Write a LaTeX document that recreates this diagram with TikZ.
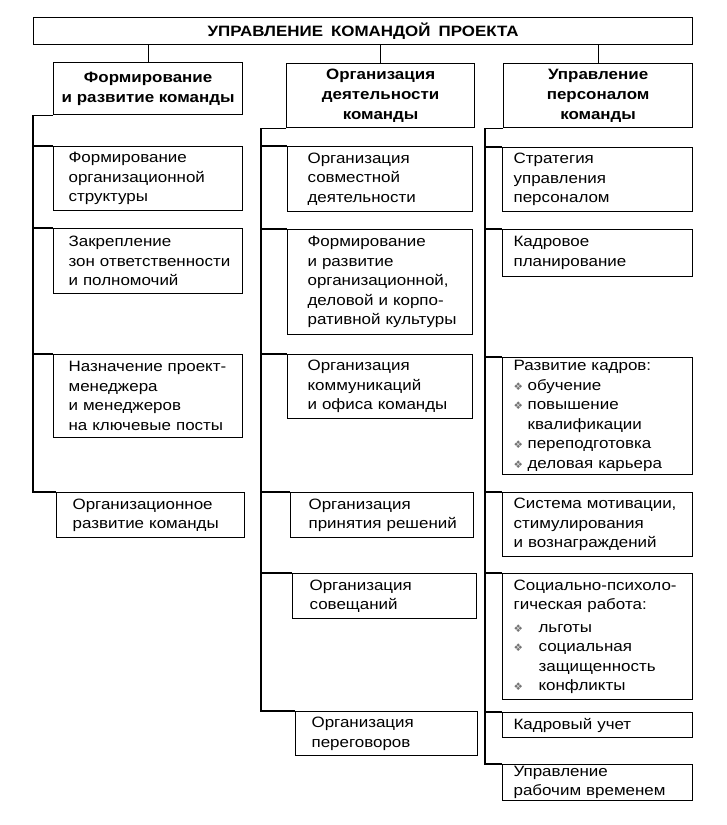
\documentclass[tikz,border=0pt]{standalone}
\usepackage{fontspec}
\setmainfont{Liberation Sans}[FakeStretch=1.13]
\newfontfamily\bulfont{DejaVu Sans}
\newcommand{\bul}{\makebox[14pt][l]{\bulfont\fontsize{10.5}{10}\selectfont\textcolor{black!55}{❖}}}
\newcommand{\bulw}{\makebox[25pt][l]{\bulfont\fontsize{10.5}{10}\selectfont\textcolor{black!55}{❖}}}
\begin{document}
\begin{tikzpicture}[x=1pt,y=-1pt,
    every path/.style={line width=1.2pt},
    box/.style={draw,line width=1.2pt,anchor=north west,inner ysep=0pt,align=left,
      font=\fontsize{15}{19.5}\selectfont},
    head/.style={box,align=center,font=\fontsize{15}{20}\selectfont\bfseries},
    colA/.style={box,inner xsep=15pt},
    colB/.style={box,inner xsep=20pt},
    colC/.style={box,inner xsep=11pt}]
  \useasboundingbox (0,0) rectangle (727,825);
  % title and the three heads
  \node[head,minimum width=659pt,minimum height=27pt] (top) at (33,17) {\spaceskip=8pt УПРАВЛЕНИЕ КОМАНДОЙ ПРОЕКТА};
  \node[head,minimum width=189pt,minimum height=52pt] (h1) at (53,62) {Формирование\\и развитие команды};
  \node[head,minimum width=188pt,minimum height=64pt] (h2) at (286,63) {Организация\\деятельности\\команды};
  \node[head,minimum width=189pt,minimum height=64pt] (h3) at (503,63) {Управление\\персоналом\\команды};
  \foreach \h in {h1,h2,h3}
    \draw (top.south -| \h.north) -- (\h.north);
  \coordinate (r1) at (33,0);
  \coordinate (r2) at (261,0);
  \coordinate (r3) at (485,0);

  % first column
  \node[colA,text width=159pt,minimum height=64pt] (a1) at (53,146) {Формирование\\организационной\\структуры};
  \node[colA,text width=159pt,minimum height=65pt] (a2) at (53,228) {Закрепление\\зон~ответственности\\и~полномочий};
  \node[colA,text width=159pt,minimum height=83pt] (a3) at (53,354) {\mbox{Назначение проект-}\\менеджера\\и~менеджеров\\на~ключевые~посты};
  \node[colA,inner xsep=16pt,text width=156pt,minimum height=45pt] (a4) at (56,492) {Организационное\\развитие~команды};
  \draw (h1.south west) -- (h1.south west -| r1) -- (a4.north west -| r1) -- (a4.north west);
  \foreach \n in {a1,a2,a3}
    \draw (\n.north west -| r1) -- (\n.north west);

  % second column
  \node[colB,text width=145pt,minimum height=65pt] (b1) at (287,146) {Организация\\совместной\\деятельности};
  \node[colB,text width=145pt,minimum height=105pt] (b2) at (287,229) {Формирование\\и~развитие\\организационной,\\\mbox{деловой и корпо-}\\ративной~культуры};
  \node[colB,text width=145pt,minimum height=64pt] (b3) at (287,354) {Организация\\коммуникаций\\и~офиса~команды};
  \node[colB,inner xsep=18pt,text width=147pt,minimum height=45pt] (b4) at (290,492) {Организация\\принятия~решений};
  \node[colB,inner xsep=17pt,text width=150pt,minimum height=45pt] (b5) at (292,573) {Организация\\совещаний};
  \node[colB,inner xsep=16pt,text width=150pt,minimum height=44pt] (b6) at (295,711) {Организация\\переговоров};
  \draw (h2.south west) -- (h2.south west -| r2) -- (b6.north west -| r2) -- (b6.north west);
  \foreach \n in {b1,b2,b3,b4,b5}
    \draw (\n.north west -| r2) -- (\n.north west);

  % third column
  \node[colC,text width=168pt,minimum height=64pt] (c1) at (502,147) {Стратегия\\управления\\персоналом};
  \node[colC,text width=168pt,minimum height=47pt] (c2) at (502,229) {Кадровое\\планирование};
  \node[colC,text width=168pt,minimum height=117pt] (c3) at (502,357) {\mbox{Развитие кадров:}\\\bul обучение\\\bul повышение\\\hspace*{14pt}квалификации\\\bul переподготовка\\\bul деловая~карьера};
  \node[colC,text width=168pt,minimum height=64pt] (c4) at (502,492) {\mbox{Система мотивации,}\\стимулирования\\и~вознаграждений};
  \node[colC,text width=168pt,minimum height=126pt] (c5) at (502,573) {\mbox{Социально-психоло-}\\\mbox{гическая работа:}\\[3pt]\bulw льготы\\\bulw социальная\\\hspace*{25pt}защищенность\\\bulw конфликты};
  \node[colC,text width=168pt,minimum height=25pt] (c6) at (502,712) {Кадровый~учет};
  \node[colC,text width=168pt,minimum height=36pt] (c7) at (502,764) {Управление\\рабочим~временем};
  \draw (h3.south west) -- (h3.south west -| r3) -- (c7.north west -| r3) -- (c7.north west);
  \foreach \n in {c1,c2,c3,c4,c5,c6}
    \draw (\n.north west -| r3) -- (\n.north west);
\end{tikzpicture}
\end{document}
